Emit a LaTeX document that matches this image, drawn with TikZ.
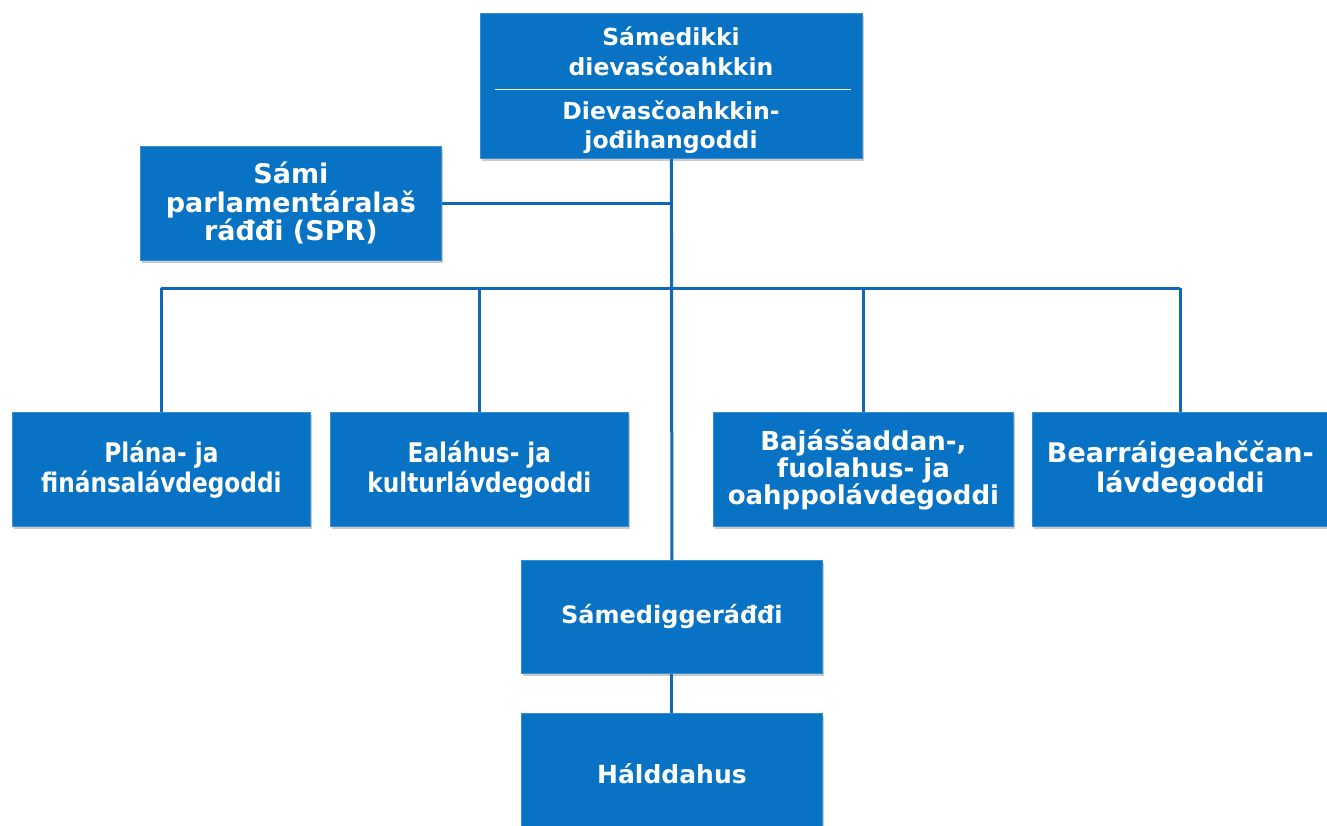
\documentclass[tikz,border=0pt]{standalone}
\usepackage{fontspec}
\setmainfont{DejaVu Sans}
\usetikzlibrary{shadows,calc}
\definecolor{boxblue}{RGB}{8,114,196}
\definecolor{lineblue}{RGB}{18,104,184}
\newcommand{\fsz}[2]{\fontsize{#1}{#2}\selectfont\bfseries}
\begin{document}
\begin{tikzpicture}[x=1pt,y=-1pt,
  orgbox/.style={draw=boxblue!80!white,line width=0.8pt,fill=boxblue,anchor=north west,
    inner sep=0pt,align=center,text=white,
    drop shadow={shadow xshift=2pt,shadow yshift=-3pt,opacity=0.35,fill=black!60}},
  boxtext/.style={text=white,align=center,inner sep=0pt},
  conn/.style={draw=lineblue,line width=3pt}]
\useasboundingbox (0,0) rectangle (1327,825);
% boxes
\node[orgbox,minimum width=382pt,minimum height=145pt] (top) at (480,13) {};
\node[boxtext,font=\fsz{23.5}{30}] (topa) at (671,51) {Sámedikki\\dievasčoahkkin};
\node[boxtext,font=\fsz{23.5}{29}] (topb) at (671,127) {Dievasčoahkkin-\\jođihangoddi};
\draw[white,line width=1.2pt] ($(top.west)+(15,3.5)$) coordinate (dl) -- ($(top.east)+(-12,3.5)$) coordinate (dr);
\node[orgbox,minimum width=301pt,minimum height=114pt,font=\fsz{27}{28.5}] (spr) at (140,146) {Sámi\\parlamentáralaš\\ráđđi (SPR)};
\node[orgbox,minimum width=298pt,minimum height=114pt,font={\fsz{27}{30}\addfontfeatures{FakeStretch=0.86}}] (plana) at (12,412) {Plána- ja\\finánsalávdegoddi};
\node[orgbox,minimum width=298pt,minimum height=114pt,font={\fsz{27}{30}\addfontfeatures{FakeStretch=0.86}}] (eal) at (330,412) {Ealáhus- ja\\kulturlávdegoddi};
\node[orgbox,minimum width=300pt,minimum height=114pt,font=\fsz{26}{27}] (baj) at (713,412) {Bajásšaddan-,\\fuolahus- ja\\oahppolávdegoddi};
\node[orgbox,minimum width=296pt,minimum height=114pt,font=\fsz{27}{30}] (bear) at (1032,412) {Bearráigeahččan-\\lávdegoddi};
\node[orgbox,minimum width=301pt,minimum height=113pt,font=\fsz{24}{28}] (sr) at (521,560) {Sámediggeráđđi};
\node[orgbox,minimum width=301pt,minimum height=120pt,font=\fsz{25}{28}] (hal) at (521,713) {Hálddahus};
% connectors
\coordinate (bus) at (0,288);
\draw[conn] (top.south) -- (sr.north);
\draw[conn] (spr.east) -- (spr.east -| top.south);
\draw[conn] (plana.north |- bus) -- (bear.north |- bus);
\draw[conn] (plana.north) -- (plana.north |- bus);
\draw[conn] (eal.north) -- (eal.north |- bus);
\draw[conn] (baj.north) -- (baj.north |- bus);
\draw[conn] (bear.north) -- (bear.north |- bus);
\draw[conn] (sr.south) -- (hal.north);
\end{tikzpicture}
\end{document}
